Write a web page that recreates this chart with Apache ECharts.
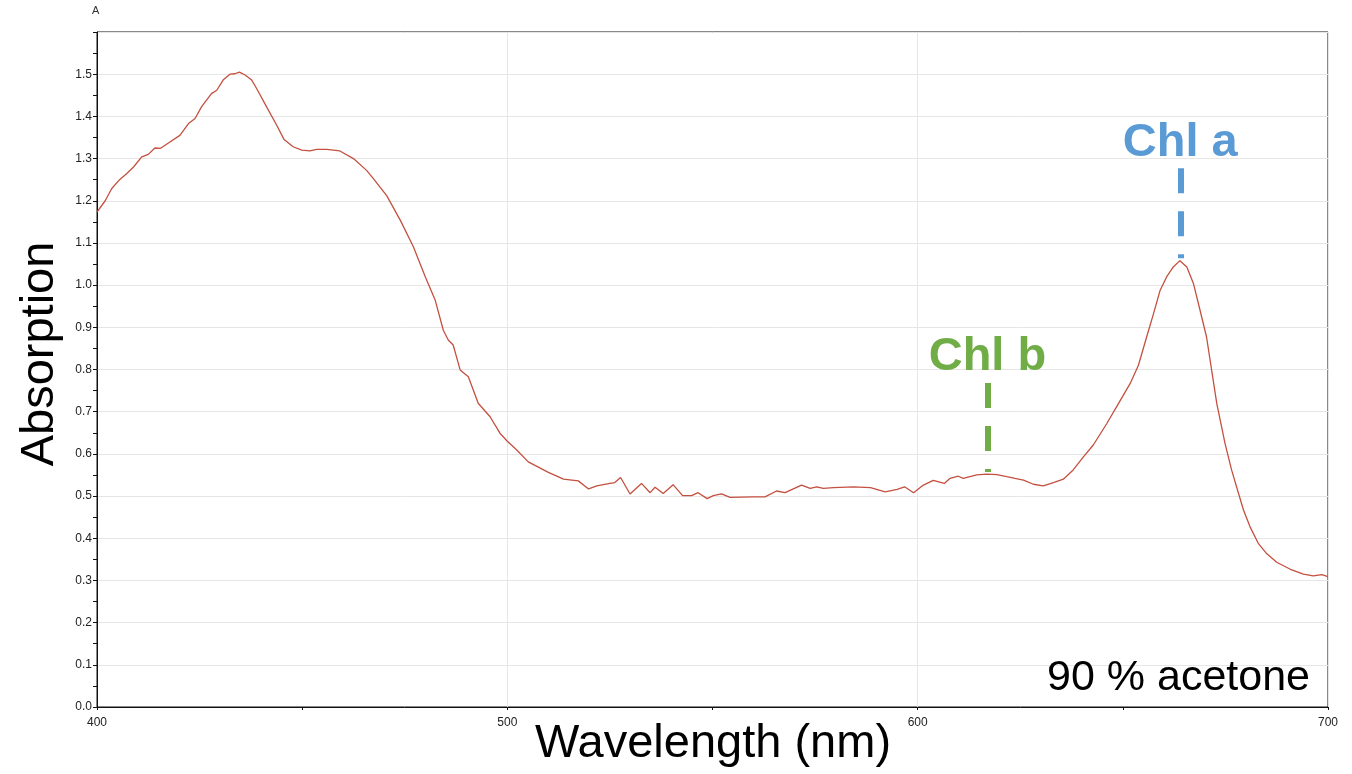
<!DOCTYPE html>
<html>
<head>
<meta charset="utf-8">
<script src="https://cdn.jsdelivr.net/npm/echarts@6/dist/echarts.min.js"></script>
<style>html,body{margin:0;padding:0;background:#fff}#c{width:1352px;height:774px}</style>
</head>
<body>
<div id="c"></div>
<script>
const wavelength = [400,402,403.6,405.5,407.2,408.9,410.9,412.5,414.1,415.4,417.4,420.2,422.3,423.9,425.5,427.9,429.2,430.8,432.4,433.6,434.7,436.1,437.7,438.9,441.3,443.8,445.6,447.8,449.9,451.9,453.5,456,459.2,462.5,465.7,467.3,470.6,473.9,477.1,480,482.4,484.4,485.6,486.8,488.5,490.5,492.9,495.8,498.2,500,502.3,505.1,510,513.7,517.3,519.8,521.8,525,526.2,527.6,529.9,532.7,534.8,536,538,540.4,542.7,544.9,546.5,548.7,550.2,552.2,554.3,559.9,562.8,565.6,567.7,571.7,573.8,575.4,577,579.5,584.3,588.5,592.1,595,596.8,599,601.4,603.8,606.5,607.9,609.9,611.1,614.4,616.8,619.3,621.7,623.7,625.8,628.2,630.6,633.1,635.5,637.9,640.4,642.8,646.1,648.5,651.8,653.8,655.8,657.5,659.1,660.7,662.3,663.9,665.6,667.2,668.8,670.4,672.9,674.9,676.5,678.2,679.4,681,683,685.1,687.5,690.7,694,696.4,698.5,700];
const absorbance = [1.173,1.20,1.229,1.25,1.264,1.280,1.304,1.310,1.325,1.324,1.337,1.355,1.383,1.395,1.423,1.454,1.462,1.487,1.500,1.501,1.505,1.498,1.486,1.466,1.423,1.379,1.345,1.328,1.320,1.318,1.322,1.322,1.318,1.300,1.272,1.253,1.212,1.154,1.091,1.020,0.965,0.893,0.870,0.858,0.799,0.783,0.720,0.688,0.649,0.630,0.609,0.581,0.556,0.540,0.536,0.517,0.524,0.530,0.532,0.544,0.505,0.530,0.508,0.521,0.506,0.527,0.501,0.501,0.508,0.494,0.501,0.505,0.497,0.498,0.498,0.512,0.508,0.526,0.518,0.522,0.518,0.520,0.522,0.520,0.510,0.516,0.522,0.508,0.526,0.537,0.530,0.542,0.547,0.542,0.550,0.552,0.551,0.546,0.542,0.538,0.528,0.524,0.532,0.540,0.562,0.593,0.621,0.672,0.712,0.767,0.810,0.877,0.933,0.988,1.020,1.043,1.058,1.043,1.004,0.941,0.877,0.719,0.625,0.562,0.506,0.467,0.427,0.388,0.363,0.343,0.327,0.315,0.311,0.314,0.309];
const xTicks = [400,500,600,700];
const yMax = 1.6;
const peakNames = ['Chl a','Chl b'];
const peakWavelengths = [664, 617];
const peakLineTop = [1.277, 0.768];
const peakLineBottom = [1.064, 0.557];
const peakColors = ['#5b9bd5','#70ad47'];
const xTitle = 'Wavelength (nm)';
const yTitle = 'Absorption';
const solventLabel = '90 % acetone';
const unitLabel = 'A';

const FONT = 'Liberation Sans, Arial, sans-serif';
const chart = echarts.init(document.getElementById('c'));
const points = wavelength.map((w,i)=>[w,absorbance[i]]);
const markData = peakNames.map((n,i)=>[
  {coord:[peakWavelengths[i],peakLineTop[i]], name:n,
   lineStyle:{color:peakColors[i],width:6,type:[25,18]},
   label:{show:true,position:'start',formatter:n,color:peakColors[i],fontSize:47,fontWeight:'bold',fontFamily:FONT,distance:2}},
  {coord:[peakWavelengths[i],peakLineBottom[i]]}
]);
chart.setOption({
  animation:false,
  backgroundColor:'#fff',
  grid:{left:97,right:24,top:32,bottom:67,show:true,borderColor:'#111',borderWidth:1,containLabel:false,outerBoundsMode:'none'},
  xAxis:{type:'value',min:400,max:700,interval:100,
    axisLine:{show:true,lineStyle:{color:'#111',width:1}},
    axisTick:{show:true,length:3,lineStyle:{color:'#111'}},
    minorTick:{show:true,splitNumber:2,length:3,lineStyle:{color:'#111'}},
    axisLabel:{color:'#222',fontSize:12,margin:10,fontFamily:FONT,
      formatter:v=>xTicks.includes(v)?String(v):''},
    splitLine:{show:true,lineStyle:{color:'#e6e6e6',width:1}}
  },
  yAxis:{type:'value',min:0,max:yMax,interval:0.1,
    axisLine:{show:true,lineStyle:{color:'#111',width:1}},
    axisTick:{show:true,length:4,lineStyle:{color:'#111'}},
    minorTick:{show:true,splitNumber:2,length:4,lineStyle:{color:'#111'}},
    axisLabel:{color:'#222',fontSize:12,margin:5,fontFamily:FONT,
      formatter:v=>v>1.55?'':v.toFixed(1)},
    splitLine:{show:true,lineStyle:{color:'#e6e6e6',width:1}}
  },
  series:[{
    type:'line',data:points,showSymbol:false,symbol:'none',smooth:false,
    lineStyle:{color:'#c4503f',width:1.3},
    markLine:{silent:true,symbol:['none','none'],data:markData}
  }],
  graphic:[
    {type:'text',z:100,x:92,y:5,style:{text:unitLabel,fontSize:11,fill:'#333',fontFamily:FONT}},
    {type:'text',z:100,x:40,y:354,rotation:Math.PI/2,style:{text:yTitle,fontSize:47,fill:'#000',fontFamily:FONT,align:'center',verticalAlign:'middle'}},
    {type:'text',z:100,x:713,y:744,style:{text:xTitle,fontSize:47,fill:'#000',fontFamily:FONT,align:'center',verticalAlign:'middle'}},
    {type:'text',z:100,right:42,top:657,style:{text:solventLabel,fontSize:43,fill:'#000',fontFamily:FONT}}
  ]
});
</script>
</body>
</html>
